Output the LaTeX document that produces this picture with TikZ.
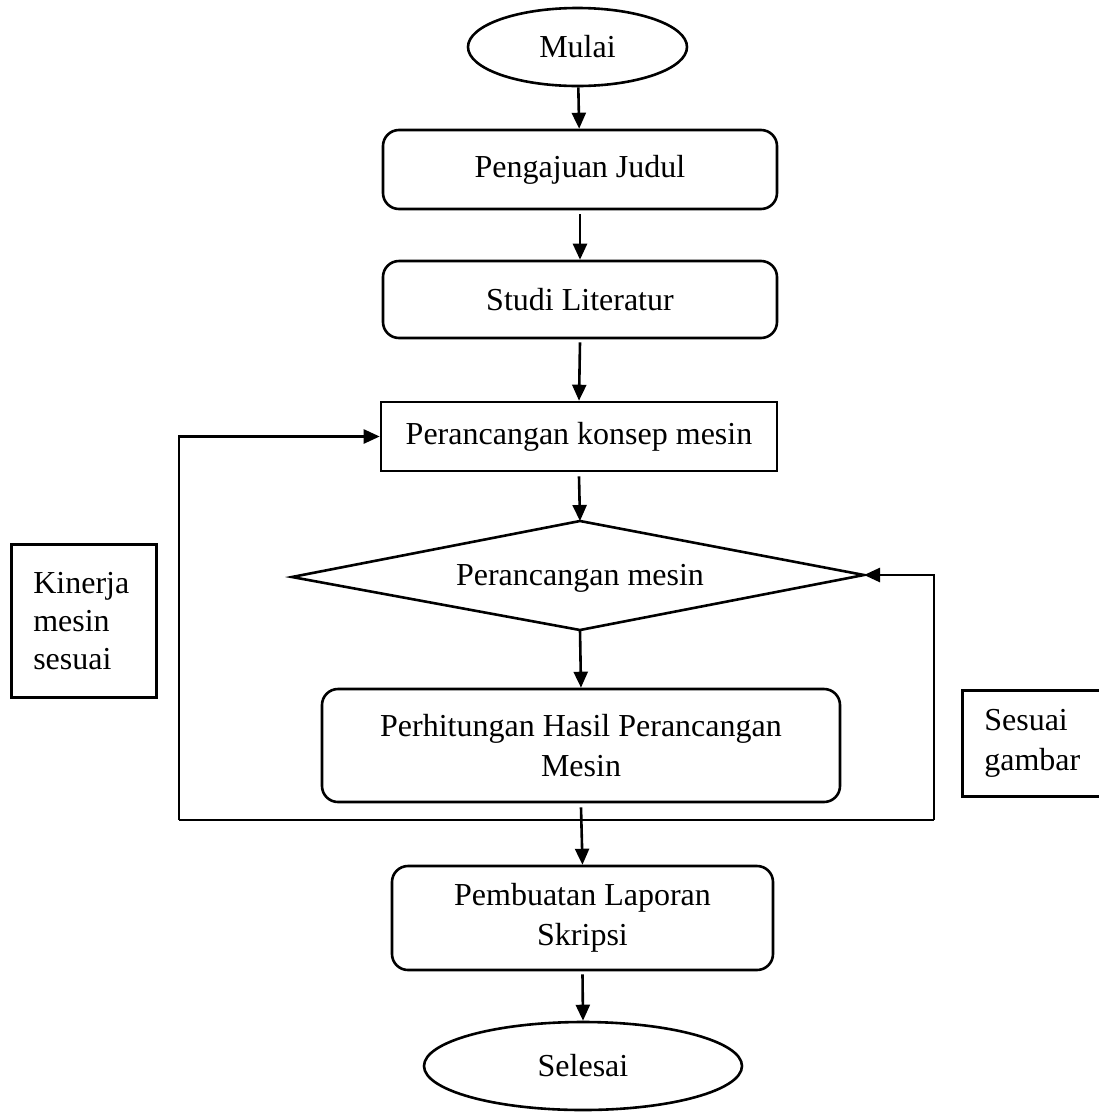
\documentclass[tikz,border=0pt]{standalone}
\usepackage{fontspec}
\setmainfont{Liberation Serif}
\usetikzlibrary{shapes.geometric,arrows.meta}
\begin{document}
\begin{tikzpicture}[x=1pt,y=-1pt,line width=2.6pt,
  every node/.style={font=\fontsize{32}{40}\selectfont},
  rbox/.style={draw, rounded corners=16pt, align=center, inner sep=0pt},
  sbox/.style={draw, align=center, inner sep=0pt},
  term/.style={draw, ellipse, inner sep=0pt},
  note/.style={draw, align=left, inner xsep=22pt, inner ysep=0pt, anchor=north west},
  arr/.style={-{Triangle[length=16pt,width=14pt]}}]
\useasboundingbox (0,0) rectangle (1099,1112);
\clip (0,0) rectangle (1099,1112);

\node[term, minimum width=219pt, minimum height=78pt] (mulai) at (577.5,47) {Mulai};
\node[rbox, minimum width=394pt, minimum height=79pt] (pj) at (580,169.5) {Pengajuan Judul};
\node[rbox, minimum width=394pt, minimum height=77pt] (sl) at (580,299.5) {Studi Literatur};
\node[sbox, minimum width=396pt, minimum height=69pt] (kon) at (579,436.5) {Perancangan konsep mesin};

\coordinate (dT) at (580,521);
\coordinate (dR) at (864,575);
\coordinate (dB) at (580,630);
\coordinate (dL) at (292,577);
\draw[line join=miter] (dT) -- (dR) -- (dB) -- (dL) -- cycle;
\node (dtext) at (580,578) {Perancangan mesin};

\node[rbox, minimum width=518pt, minimum height=113pt] (ph) at (581,745.5) {Perhitungan Hasil Perancangan\\Mesin};
\node[rbox, minimum width=381pt, minimum height=104pt] (pb) at (582.5,918) {Pembuatan Laporan\\Skripsi};
\node[term, minimum width=318pt, minimum height=88pt] (sel) at (583,1066) {Selesai};

\node[note, minimum width=145pt, minimum height=153pt, text width=101pt, font=\fontsize{32}{38}\selectfont] (kin) at (10,543) {Kinerja\\mesin\\sesuai};
\node[note, minimum width=150pt, minimum height=106pt, text width=106pt] (sg) at (961,689) {Sesuai\\gambar};

\draw[arr] (mulai) -- (pj);
\draw[arr] ([yshift=-4pt]pj.south) -- (sl.north);
\draw[arr] ([yshift=-3pt]sl.south) -- (kon.north);
\draw[arr] ([yshift=-4pt]kon.south) -- (dT);
\draw[arr] (dB) -- (ph.north);
\draw[arr] ([yshift=-4pt]ph.south) -- (pb.north);
\draw[arr] ([yshift=-3pt]pb.south) -- (sel.north);

\coordinate (lb) at (179,820);
\coordinate (rb) at (934,820);
\draw (lb) -- (rb);
\draw[arr] (lb) |- (kon.west);
\draw[arr] (rb) |- (dR);
\end{tikzpicture}
\end{document}
